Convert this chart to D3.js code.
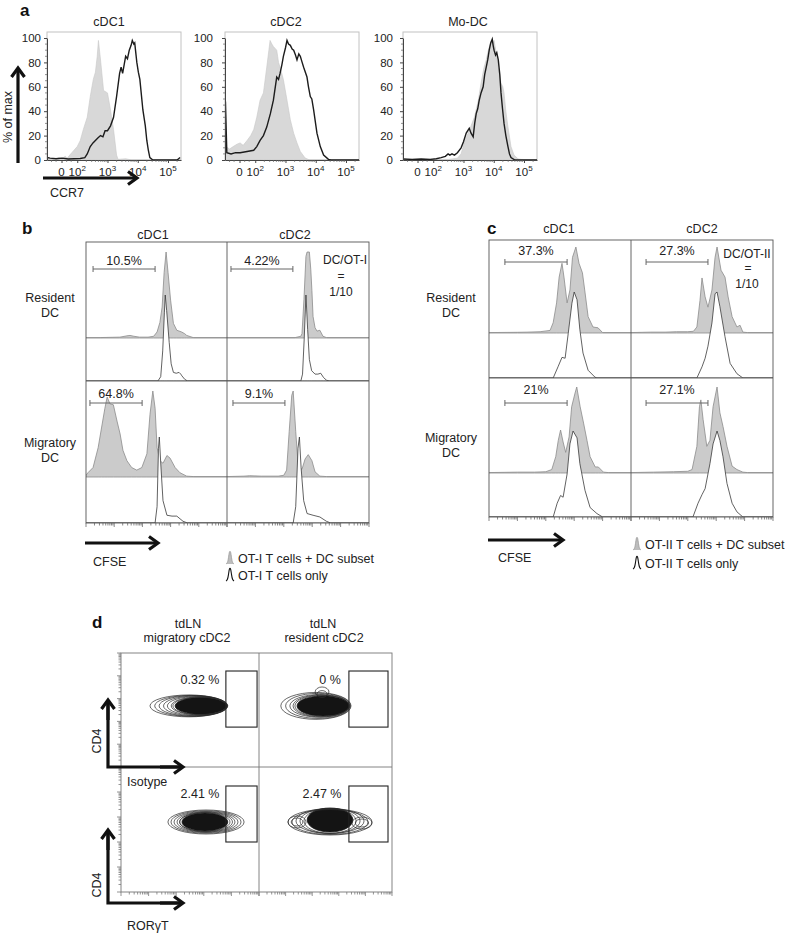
<!DOCTYPE html>
<html><head><meta charset="utf-8">
<script src="https://cdn.jsdelivr.net/npm/d3@7"></script>
<style>
body{margin:0;background:#fff;}
svg{display:block;font-family:"Liberation Sans",Arial,Helvetica,sans-serif;}
</style></head><body>
<script>
// ---------- DATA ----------
// Panel a: CCR7 histograms, [decade position, % of max]
const aTitles = ["cDC1", "cDC2", "Mo-DC"];
const aYTicks = [0, 20, 40, 60, 80, 100];
const aXTickPos = [1.48, 2, 3, 4, 5];
const aXTickBase = ["0", "10", "10", "10", "10"];
const aXTickExp = ["", "2", "3", "4", "5"];
const aCdc1Iso = [[1.0,1],[1.2,0.5],[1.4,2],[1.5,1],[1.6,3],[1.67,1.6],[1.82,6],[2.0,11],[2.1,16],[2.2,25],[2.33,35],[2.43,52],[2.53,66],[2.6,72],[2.66,85],[2.7,98],[2.77,82],[2.87,57],[3.0,55],[3.1,41],[3.2,25],[3.3,4],[3.35,0.5],[3.6,1],[3.8,0],[5.43,0]];
const aCdc1Ccr7 = [[1.0,2],[1.1,1.5],[1.3,1],[1.5,1.5],[1.7,0.8],[1.9,1],[2.1,1.2],[2.25,2],[2.33,5],[2.43,11],[2.52,14],[2.6,16],[2.68,18],[2.77,20],[2.85,19],[2.92,24],[3.0,24],[3.1,28],[3.2,35],[3.3,52],[3.4,71],[3.45,76],[3.5,71],[3.55,78],[3.6,85],[3.66,83],[3.72,90],[3.78,94],[3.82,98],[3.87,95],[3.9,96],[3.97,80],[4.02,72],[4.07,66],[4.17,41],[4.25,28],[4.3,16],[4.35,8],[4.4,2],[4.5,0],[5.3,0],[5.4,2]];
const aCdc2Iso = [[1.01,0],[1.02,11],[1.15,9],[1.27,11],[1.4,13],[1.5,14],[1.6,12],[1.73,16],[1.85,20],[1.95,25],[2.05,35],[2.16,49],[2.27,55],[2.38,76],[2.45,90],[2.49,98],[2.55,95],[2.6,93],[2.71,90],[2.77,80],[2.82,76],[2.93,66],[3.05,49],[3.16,33],[3.27,22],[3.38,14],[3.49,7],[3.65,1.6],[3.8,0],[5.43,0]];
const aCdc2Ccr7 = [[1.01,0],[1.015,48],[1.06,6],[1.2,5],[1.35,6],[1.5,6],[1.73,7],[1.95,8],[2.05,11],[2.16,16],[2.27,20],[2.38,27],[2.5,38],[2.6,49],[2.71,68],[2.77,66],[2.82,71],[2.88,78],[2.93,85],[3.0,92],[3.05,98],[3.1,95],[3.16,94],[3.22,91],[3.27,90],[3.33,86],[3.38,82],[3.44,87],[3.49,85],[3.55,80],[3.6,76],[3.71,68],[3.76,60],[3.82,52],[3.87,50],[3.93,41],[4.04,22],[4.15,11],[4.26,4],[4.42,0.5],[4.5,0],[5.43,0]];
const aModcIso = [[1.0,0.5],[2.5,0.5],[2.8,1.5],[2.92,5],[3.02,14],[3.15,22],[3.25,28],[3.36,35],[3.49,49],[3.58,63],[3.68,76],[3.75,82],[3.82,90],[3.92,98],[3.97,95],[4.01,98],[4.08,88],[4.15,76],[4.24,63],[4.3,60],[4.34,55],[4.4,40],[4.47,27],[4.57,11],[4.67,4],[4.8,1],[4.9,0.5],[5.43,0]];
const aModcCcr7 = [[1.0,0.8],[1.3,0.5],[1.6,0.8],[1.9,0.5],[2.1,1],[2.26,2],[2.4,3],[2.49,5],[2.55,4],[2.62,5],[2.7,4],[2.8,6],[2.92,10],[3.0,15],[3.09,22],[3.19,26],[3.25,22],[3.32,19],[3.37,30],[3.42,38],[3.47,42],[3.52,49],[3.58,55],[3.65,60],[3.7,70],[3.75,76],[3.8,82],[3.85,90],[3.9,96],[3.95,99],[3.98,94],[4.01,90],[4.06,86],[4.1,88],[4.15,82],[4.2,70],[4.24,55],[4.29,42],[4.34,30],[4.4,20],[4.47,11],[4.52,5],[4.57,2],[4.7,0],[5.43,0]];

// Panel b: OT-I CFSE dilution, [decade position, % of max]
const bColTitles = ["cDC1", "cDC2"];
const bRowTitles = [["Resident", "DC"], ["Migratory", "DC"]];
const bGateLabels = ["10.5%", "4.22%", "64.8%", "9.1%"];
const bGates = [[0.25, 2.45], [0.14, 2.32], [0.14, 1.99], [0.21, 2.04]];
const bResCdc1Dc = [[0,0.5],[0.5,0.5],[1.2,1],[1.45,2.5],[1.56,3],[1.7,2],[1.9,1],[2.2,1],[2.4,2],[2.52,7],[2.62,18],[2.7,36],[2.77,76],[2.84,100],[2.91,76],[3.0,44],[3.1,17],[3.22,9],[3.39,7],[3.5,5],[3.57,3],[3.8,0.5],[5,0.5]];
const bResCdc1Only = [[0,0],[2.55,0],[2.65,5],[2.72,35],[2.78,80],[2.81,100],[2.86,82],[2.95,45],[3.02,20],[3.1,10],[3.2,9],[3.3,10],[3.36,8],[3.4,6],[3.5,2],[3.6,0],[5,0]];
const bResCdc2Dc = [[0,0.5],[2.4,0.5],[2.6,2],[2.64,5],[2.71,45],[2.78,95],[2.82,100],[2.9,100],[2.95,80],[2.99,55],[3.03,25],[3.1,12],[3.17,8],[3.27,9],[3.38,2],[3.5,0.5],[5,0.5]];
const bResCdc2Only = [[0,0],[2.6,0],[2.66,8],[2.72,50],[2.78,100],[2.84,60],[2.9,25],[2.98,12],[3.1,8],[3.2,8],[3.3,9],[3.4,4],[3.5,1],[3.6,0],[5,0]];
const bMigCdc1Dc = [[0,2],[0.07,5],[0.25,11],[0.43,34],[0.55,57],[0.67,80],[0.75,93],[0.85,85],[0.97,84],[1.1,65],[1.21,50],[1.31,31],[1.45,19],[1.62,11],[1.8,8],[1.98,11],[2.16,27],[2.27,73],[2.37,100],[2.45,80],[2.52,34],[2.62,19],[2.73,16],[2.87,25],[2.98,22],[3.16,11],[3.33,5],[3.57,1],[3.8,0.5],[5,0.5]];
const bMigCdc1Only = [[0,0],[2.45,0],[2.52,19],[2.57,87],[2.6,100],[2.66,64],[2.73,26],[2.87,9],[3.05,8],[3.22,8],[3.44,2],[3.6,0],[5,0]];
const bMigCdc2Dc = [[0,0.5],[0.6,1],[0.8,1.5],[1.2,1],[1.8,1],[2.0,2],[2.1,8],[2.19,53],[2.28,95],[2.33,100],[2.42,53],[2.51,11],[2.64,9],[2.75,21],[2.86,26],[2.99,19],[3.1,6],[3.27,1],[3.5,0.5],[5,0.5]];
const bMigCdc2Only = [[0,0],[2.33,0],[2.42,19],[2.5,87],[2.55,100],[2.61,64],[2.7,26],[2.82,11],[3.03,9],[3.27,7],[3.5,2],[3.65,0],[5,0]];

// Panel c: OT-II CFSE dilution
const cGateLabels = ["37.3%", "27.3%", "21%", "27.1%"];
const cGates = [[0.56, 2.75], [0.53, 2.71], [0.56, 2.75], [0.53, 2.71]];
const cResCdc1Dc = [[0,0.5],[1.0,0.8],[1.34,1],[1.8,1.5],[2.15,3],[2.26,12],[2.38,35],[2.47,65],[2.57,81],[2.64,65],[2.75,35],[2.85,50],[2.94,88],[3.06,100],[3.17,81],[3.29,70],[3.37,50],[3.49,19],[3.66,7],[3.84,6],[4.0,0.5],[5,0.5]];
const cResCdc1Only = [[0,0],[2.26,0],[2.43,13],[2.57,24],[2.68,23],[2.79,52],[2.92,87],[3.0,100],[3.1,91],[3.2,56],[3.31,29],[3.49,9],[3.73,1],[3.8,0],[5,0]];
const cResCdc2Dc = [[0,0.5],[0.7,1],[1.2,1],[1.6,1.5],[2.0,1.5],[2.2,2],[2.32,7],[2.43,38],[2.5,64],[2.61,42],[2.71,30],[2.85,50],[2.96,88],[3.03,100],[3.17,73],[3.31,65],[3.42,42],[3.56,19],[3.73,7],[3.84,9],[3.94,1],[4.1,0.5],[5,0.5]];
const cResCdc2Only = [[0,0],[2.32,0],[2.5,13],[2.61,23],[2.71,37],[2.85,64],[2.96,98],[3.03,100],[3.13,83],[3.31,48],[3.49,17],[3.73,5],[3.94,0],[5,0]];
const cMigCdc1Dc = [[0,0.5],[1.0,1],[1.6,1],[2.0,1.5],[2.21,4],[2.35,19],[2.44,38],[2.52,50],[2.61,36],[2.7,24],[2.82,42],[2.91,77],[3.03,93],[3.09,100],[3.21,77],[3.33,58],[3.45,38],[3.56,19],[3.74,7],[3.85,7],[4.03,1],[4.2,0.5],[5,0.5]];
const cMigCdc1Only = [[0,0],[2.26,0],[2.4,16],[2.52,25],[2.61,23],[2.75,50],[2.85,85],[2.96,100],[3.1,92],[3.2,62],[3.38,31],[3.56,11],[3.8,4],[4.0,0],[5,0]];
const cMigCdc2Dc = [[0,0.5],[0.8,1],[1.5,1.5],[2.0,2],[2.15,4],[2.32,31],[2.41,77],[2.46,85],[2.54,62],[2.67,31],[2.78,38],[2.89,77],[3.03,100],[3.13,70],[3.24,54],[3.38,31],[3.56,8],[3.73,4],[3.94,1],[4.1,0.5],[5,0.5]];
const cMigCdc2Only = [[0,0],[2.18,0],[2.36,16],[2.5,26],[2.61,33],[2.78,62],[2.89,85],[3.03,100],[3.13,89],[3.24,70],[3.38,39],[3.56,16],[3.73,6],[3.94,0],[5,0]];

// Panel d: RORγT vs CD4 contours, ellipses [cx, cy, rx, ry] in decades
const dColTitles = [["tdLN", "migratory cDC2"], ["tdLN", "resident cDC2"]];
const dGateLabels = ["0.32 %", "0 %", "2.41 %", "2.47 %"];
const dGates = [[3.80,4.93,1.75,4.21],[3.38,4.85,1.75,4.21],[3.80,4.93,2.0,4.24],[3.38,4.85,2.0,4.24]];
const dRingsMigIso = [[2.46,2.68,1.41,0.48],[2.54,2.68,1.32,0.46],[2.61,2.68,1.23,0.45],[2.68,2.68,1.14,0.43],[2.75,2.68,1.07,0.41],[2.83,2.68,1.01,0.39],[2.86,2.68,0.98,0.38]];
const dCoreMigIso = [2.90,2.68,0.94,0.37];
const dRingsResIso = [[2.14,2.68,1.32,0.59],[2.22,2.68,1.22,0.55],[2.29,2.68,1.13,0.50],[2.33,2.68,1.05,0.48],[2.37,2.68,1.02,0.46],[2.37,3.29,0.26,0.22],[2.37,3.20,0.19,0.15]];
const dCoreResIso = [2.41,2.68,0.98,0.44];
const dRingsMigRor = [[3.08,2.8,1.38,0.48],[3.08,2.8,1.27,0.45],[3.08,2.8,1.16,0.42],[3.08,2.8,1.05,0.40],[3.08,2.8,0.96,0.38],[3.04,2.8,0.91,0.37]];
const dCoreMigRor = [3.04,2.8,0.83,0.36];
const dRingsResRor = [[2.67,2.8,1.58,0.52],[2.67,2.8,1.43,0.5],[2.67,2.84,1.28,0.5],[2.67,2.84,1.13,0.5],[2.67,2.84,0.98,0.49],[1.43,2.8,0.34,0.24],[1.43,2.8,0.22,0.16],[3.87,2.76,0.38,0.24],[3.87,2.76,0.25,0.16]];
const dCoreResRor = [2.67,2.88,0.86,0.48];

// ---------- DRAWING ----------
const svg = d3.select("body").append("svg").attr("width", 788).attr("height", 933);
const defs = svg.append("defs");
let clipN = 0;
function clipped(x, y, w, h) {
  const id = "clip" + (clipN++);
  defs.append("clipPath").attr("id", id).append("rect").attr("x", x).attr("y", y).attr("width", w).attr("height", h);
  return svg.append("g").attr("clip-path", `url(#${id})`);
}
function text(x, y, s, o = {}) {
  return svg.append("text").attr("x", x).attr("y", y).text(s)
    .attr("font-size", o.fs || 12.5).attr("fill", o.fill || "#222")
    .attr("font-weight", o.bold ? "bold" : "normal")
    .attr("text-anchor", o.anchor || "middle");
}
function arrow(x1, y1, x2, y2) {
  const L = Math.hypot(x2 - x1, y2 - y1), ux = (x2 - x1) / L, uy = (y2 - y1) / L;
  const nx = -uy, ny = ux;
  svg.append("line").attr("x1", x1).attr("y1", y1).attr("x2", x2 - ux * 2).attr("y2", y2 - uy * 2)
    .attr("stroke", "#111").attr("stroke-width", 3.2);
  const h = 9, w = 6.5;
  svg.append("path").attr("d", `M${x2 - ux * h + nx * w},${y2 - uy * h + ny * w}L${x2},${y2}L${x2 - ux * h - nx * w},${y2 - uy * h - ny * w}`)
    .attr("fill", "none").attr("stroke", "#111").attr("stroke-width", 3.2).attr("stroke-linejoin", "miter");
}
function logTicks(min, max) {
  const out = [];
  for (let dd = Math.floor(min); dd <= max; dd++)
    for (let k = 1; k <= 9; k++) { const v = dd + Math.log10(k); if (v >= min && v <= max) out.push({ v, major: k === 1 }); }
  return out;
}

// ---- Panel a ----
text(20, 16, "a", { fs: 17, bold: true, anchor: "start", fill: "#111" });
const aBoxes = [47, 225, 403], aW = 134, aTop = 32, aBot = 160;
const aTitleX = [109, 286, 468], aPad = [6, 12, 10];
const aIso = [aCdc1Iso, aCdc2Iso, aModcIso], aLine = [aCdc1Ccr7, aCdc2Ccr7, aModcCcr7];
aBoxes.forEach((L, i) => {
  const x = d3.scaleLinear().domain([1.0, 5.43]).range([L, L + aW]);
  const y = d3.scaleLinear().domain([0, 100]).range([aBot, 38]);
  text(aTitleX[i], 26, aTitles[i], { fs: 12.5 });
  svg.append("rect").attr("x", L).attr("y", aTop).attr("width", aW).attr("height", aBot - aTop)
    .attr("fill", "none").attr("stroke", "#c2c2c2").attr("stroke-width", 1);
  const g = clipped(L, aTop, aW, aBot - aTop);
  g.append("path").datum(aIso[i]).attr("d", d3.area().x(d => x(d[0])).y0(y(0)).y1(d => y(d[1])))
    .attr("fill", "#d8d8d8").attr("stroke", "#c8c8c8").attr("stroke-width", 0.6);
  g.append("path").datum(aLine[i]).attr("d", d3.line().x(d => x(d[0])).y(d => y(d[1])))
    .attr("fill", "none").attr("stroke", "#1c1c1c").attr("stroke-width", 1.4);
  // y axis
  const ya = svg.append("g").attr("transform", `translate(${L},0)`)
    .call(d3.axisLeft(y).tickValues(aYTicks).tickSize(3).tickSizeOuter(0).tickPadding(aPad[i] - 3));
  ya.select(".domain").attr("stroke", "#444");
  ya.selectAll(".tick line").attr("stroke", "#444");
  ya.selectAll("text").attr("font-size", 11.5).attr("fill", "#222").attr("font-family", "Liberation Sans, Arial, sans-serif");
  d3.range(5, 100, 5).filter(v => v % 20).forEach(v => {
    svg.append("line").attr("x1", L - 2).attr("x2", L).attr("y1", y(v)).attr("y2", y(v)).attr("stroke", "#666").attr("stroke-width", 0.7);
  });
  // x axis
  const xa = svg.append("g").attr("transform", `translate(0,${aBot})`)
    .call(d3.axisBottom(x).tickValues(aXTickPos).tickSize(3).tickSizeOuter(0).tickFormat(() => ""));
  xa.select(".domain").attr("stroke", "#444");
  xa.selectAll(".tick line").attr("stroke", "#444");
  logTicks(2, 5.43).filter(t => !t.major).forEach(t => {
    svg.append("line").attr("x1", x(t.v)).attr("x2", x(t.v)).attr("y1", aBot).attr("y2", aBot + 2).attr("stroke", "#666").attr("stroke-width", 0.7);
  });
  [1.15, 1.3, 1.65, 1.8].forEach(v => {
    svg.append("line").attr("x1", x(v)).attr("x2", x(v)).attr("y1", aBot).attr("y2", aBot + 2).attr("stroke", "#666").attr("stroke-width", 0.7);
  });
  aXTickPos.forEach((v, j) => {
    const t = svg.append("text").attr("x", x(v)).attr("y", 176).attr("text-anchor", "middle")
      .attr("font-size", 11.5).attr("fill", "#222");
    t.append("tspan").text(aXTickBase[j]);
    if (aXTickExp[j]) t.append("tspan").attr("dy", -5).attr("font-size", 8).text(aXTickExp[j]);
  });
});
svg.append("text").attr("transform", "translate(12,117) rotate(-90)").attr("text-anchor", "middle")
  .attr("font-size", 12.5).attr("fill", "#222").text("% of max");
arrow(18, 163, 18, 68);
arrow(43, 178, 137, 178);
text(50, 197, "CCR7", { anchor: "start" });

// ---- Panels b & c ----
function prolif(cfg) {
  const { cols, rows, grayBase, cells, gates, gateLabels, gateDy, labelDy } = cfg;
  [0, 1].forEach(r => [0, 1].forEach(c => {
    const x = d3.scaleLinear().domain([0, 5]).range([cols[c], cols[c + 1]]);
    const yG = d3.scaleLinear().domain([0, 100]).range([grayBase[r], grayBase[r] - 86]);
    const yW = d3.scaleLinear().domain([0, 100]).range([rows[r + 1], rows[r + 1] - 86]);
    const g = clipped(cols[c], rows[r], cols[c + 1] - cols[c], rows[r + 1] - rows[r]);
    const cell = cells[r * 2 + c];
    g.append("path").datum(cell[0]).attr("d", d3.area().x(d => x(d[0])).y0(yG(0)).y1(d => yG(d[1])))
      .attr("fill", "#cbcbcb").attr("stroke", "#8c8c8c").attr("stroke-width", 0.8);
    g.append("path").datum(cell[1]).attr("d", d3.area().x(d => x(d[0])).y0(yW(0)).y1(d => yW(d[1])))
      .attr("fill", "#fff").attr("stroke", "#3a3a3a").attr("stroke-width", 0.8);
    // gate
    const gy = rows[r] + gateDy[r];
    const ga = gates[r * 2 + c];
    svg.append("line").attr("x1", x(ga[0])).attr("x2", x(ga[1])).attr("y1", gy).attr("y2", gy).attr("stroke", "#666").attr("stroke-width", 1);
    ga.forEach(v => svg.append("line").attr("x1", x(v)).attr("x2", x(v)).attr("y1", gy - 3).attr("y2", gy + 3).attr("stroke", "#666").attr("stroke-width", 1));
    text((x(ga[0]) + x(ga[1])) / 2, gy - labelDy[r], gateLabels[r * 2 + c], { fs: 12.5 });
    // bottom ticks
    if (r === 1) logTicks(0, 5).forEach(t => {
      svg.append("line").attr("x1", x(t.v)).attr("x2", x(t.v)).attr("y1", rows[2]).attr("y2", rows[2] + (t.major ? 4 : 2.5))
        .attr("stroke", "#555").attr("stroke-width", 0.7);
    });
  }));
  svg.append("rect").attr("x", cols[0]).attr("y", rows[0]).attr("width", cols[2] - cols[0]).attr("height", rows[2] - rows[0])
    .attr("fill", "none").attr("stroke", "#555").attr("stroke-width", 0.9);
  svg.append("line").attr("x1", cols[1]).attr("x2", cols[1]).attr("y1", rows[0]).attr("y2", rows[2]).attr("stroke", "#555").attr("stroke-width", 0.9);
  svg.append("line").attr("x1", cols[0]).attr("x2", cols[2]).attr("y1", rows[1]).attr("y2", rows[1]).attr("stroke", "#555").attr("stroke-width", 0.9);
}

// Panel b
text(22, 234, "b", { fs: 17, bold: true, anchor: "start", fill: "#111" });
text(153, 239, bColTitles[0]); text(295, 239, bColTitles[1]);
text(50, 302, bRowTitles[0][0]); text(50, 317, bRowTitles[0][1]);
text(50, 447, bRowTitles[1][0]); text(50, 462, bRowTitles[1][1]);
prolif({
  cols: [86, 227, 369], rows: [242, 381, 523], grayBase: [338, 477],
  cells: [[bResCdc1Dc, bResCdc1Only], [bResCdc2Dc, bResCdc2Only], [bMigCdc1Dc, bMigCdc1Only], [bMigCdc2Dc, bMigCdc2Only]],
  gates: bGates, gateLabels: bGateLabels, gateDy: [27, 22], labelDy: [4, 5]
});
text(345, 264, "DC/OT-I", { fs: 12 }); text(341, 280, "=", { fs: 12 }); text(341, 296, "1/10", { fs: 12 });
arrow(85, 543, 158, 543);
text(93, 566, "CFSE", { anchor: "start" });

// Panel c
text(487, 234, "c", { fs: 17, bold: true, anchor: "start", fill: "#111" });
text(559, 233, bColTitles[0]); text(702, 233, bColTitles[1]);
text(451, 302, bRowTitles[0][0]); text(451, 317, bRowTitles[0][1]);
text(451, 442, bRowTitles[1][0]); text(451, 457, bRowTitles[1][1]);
prolif({
  cols: [489, 631, 773], rows: [240, 378, 517], grayBase: [333, 473],
  cells: [[cResCdc1Dc, cResCdc1Only], [cResCdc2Dc, cResCdc2Only], [cMigCdc1Dc, cMigCdc1Only], [cMigCdc2Dc, cMigCdc2Only]],
  gates: cGates, gateLabels: cGateLabels, gateDy: [22, 25], labelDy: [7, 9]
});
text(747, 258, "DC/OT-II", { fs: 12 }); text(748, 272, "=", { fs: 12 }); text(747, 288, "1/10", { fs: 12 });
arrow(488, 540, 563, 540);
text(498, 562, "CFSE", { anchor: "start" });

// legends
function legend(ix, y1, y2, label1, label2) {
  const peak = d3.line().curve(d3.curveBasis);
  const shape = [[-4, 0], [-2.5, -1], [-1.5, -6], [-0.7, -13], [0.7, -13], [1.5, -6], [2.5, -1], [4, 0]];
  svg.append("path").attr("d", peak(shape.map(p => [ix + p[0], y1 + 1 + p[1]]))).attr("fill", "#bdbdbd").attr("stroke", "#999").attr("stroke-width", 0.8);
  svg.append("path").attr("d", peak(shape.map(p => [ix + p[0], y2 + 1 + p[1]]))).attr("fill", "#fff").attr("stroke", "#111").attr("stroke-width", 1.1);
  text(ix + 8, y1, label1, { anchor: "start", fs: 12.5 });
  text(ix + 8, y2, label2, { anchor: "start", fs: 12.5 });
}
legend(230, 563, 580, "OT-I T cells + DC subset", "OT-I T cells only");
legend(637, 549, 568, "OT-II T cells + DC subset", "OT-II T cells only");

// ---- Panel d ----
text(92, 628, "d", { fs: 17, bold: true, anchor: "start", fill: "#111" });
const dCols = [121, 259, 392], dRows = [653, 767, 892];
text(188, 628, dColTitles[0][0]); text(187, 642, dColTitles[0][1]);
text(323, 628, dColTitles[1][0]); text(324, 642, dColTitles[1][1]);
const dRings = [dRingsMigIso, dRingsResIso, dRingsMigRor, dRingsResRor];
const dCores = [dCoreMigIso, dCoreResIso, dCoreMigRor, dCoreResRor];
[0, 1].forEach(r => [0, 1].forEach(c => {
  const i = r * 2 + c;
  const x = d3.scaleLinear().domain([0, 5]).range([dCols[c], dCols[c + 1]]);
  const y = d3.scaleLinear().domain([0, 5]).range([dRows[r + 1], dRows[r]]);
  const g = clipped(dCols[c], dRows[r], dCols[c + 1] - dCols[c], dRows[r + 1] - dRows[r]);
  const co = dCores[i];
  g.append("ellipse").attr("cx", x(co[0])).attr("cy", y(co[1])).attr("rx", x(co[0] + co[2]) - x(co[0])).attr("ry", y(co[1]) - y(co[1] + co[3]))
    .attr("fill", "#141414").attr("stroke", "#141414").attr("stroke-width", 0.8);
  g.selectAll(null).data(dRings[i]).enter().append("ellipse")
    .attr("cx", d => x(d[0])).attr("cy", d => y(d[1]))
    .attr("rx", d => x(d[0] + d[2]) - x(d[0])).attr("ry", d => y(d[1]) - y(d[1] + d[3]))
    .attr("fill", "none").attr("stroke", "#2a2a2a").attr("stroke-width", 0.7);
  const ga = dGates[i];
  svg.append("rect").attr("x", x(ga[0])).attr("y", y(ga[3])).attr("width", x(ga[1]) - x(ga[0])).attr("height", y(ga[2]) - y(ga[3]))
    .attr("fill", "none").attr("stroke", "#222").attr("stroke-width", 1.1);
  const lx = c === 0 ? 200 : (r === 0 ? 330 : 322);
  text(lx, y(ga[3]) + (r === 0 ? 13 : 12), dGateLabels[i], { fs: 12.5 });
  // ticks
  if (c === 0) logTicks(0, 5).forEach(t => {
    svg.append("line").attr("x1", dCols[0] - (t.major ? 4 : 2.5)).attr("x2", dCols[0]).attr("y1", y(t.v)).attr("y2", y(t.v))
      .attr("stroke", "#666").attr("stroke-width", 0.7);
  });
  if (r === 1) logTicks(0, 5).forEach(t => {
    svg.append("line").attr("x1", x(t.v)).attr("x2", x(t.v)).attr("y1", dRows[2]).attr("y2", dRows[2] + (t.major ? 4 : 2.5))
      .attr("stroke", "#666").attr("stroke-width", 0.7);
  });
}));
svg.append("rect").attr("x", dCols[0]).attr("y", dRows[0]).attr("width", dCols[2] - dCols[0]).attr("height", dRows[2] - dRows[0])
  .attr("fill", "none").attr("stroke", "#777").attr("stroke-width", 0.9);
svg.append("line").attr("x1", dCols[1]).attr("x2", dCols[1]).attr("y1", dRows[0]).attr("y2", dRows[2]).attr("stroke", "#777").attr("stroke-width", 0.9);
svg.append("line").attr("x1", dCols[0]).attr("x2", dCols[2]).attr("y1", dRows[1]).attr("y2", dRows[1]).attr("stroke", "#777").attr("stroke-width", 0.9);
// axis arrows
svg.append("path").attr("d", "M108,701L108,767L180,767").attr("fill", "none").attr("stroke", "#111").attr("stroke-width", 3.2);
arrow(108, 720, 108, 700); arrow(160, 767, 183, 767);
svg.append("path").attr("d", "M108,830L108,903L180,903").attr("fill", "none").attr("stroke", "#111").attr("stroke-width", 3.2);
arrow(108, 850, 108, 830); arrow(160, 903, 183, 903);
svg.append("text").attr("transform", "translate(101,741) rotate(-90)").attr("text-anchor", "middle").attr("font-size", 12.5).attr("fill", "#222").text("CD4");
svg.append("text").attr("transform", "translate(101,885) rotate(-90)").attr("text-anchor", "middle").attr("font-size", 12.5).attr("fill", "#222").text("CD4");
text(127, 786, "Isotype", { anchor: "start" });
text(127, 930, "RORγT", { anchor: "start" });
</script>
</body></html>
